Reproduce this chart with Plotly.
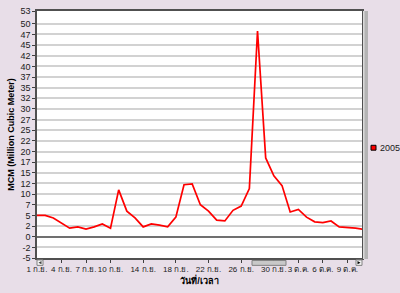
import plotly.graph_objects as go
import pandas as pd

# ---- data ----
dates = pd.date_range("2005-09-01", "2005-10-11", freq="D")
values = [5.0, 5.0, 4.4, 3.2, 2.0, 2.3, 1.8, 2.3, 3.0, 2.0,
          11.0, 6.0, 4.4, 2.3, 3.0, 2.7, 2.3, 4.6, 12.2, 12.4,
          7.5, 6.0, 3.9, 3.7, 6.2, 7.2, 11.3, 48.3, 18.5, 14.3,
          12.0, 5.8, 6.4, 4.6, 3.5, 3.3, 3.7, 2.3, 2.2, 2.0, 1.7]
series_name = "2005"

xtick_dates = ["2005-09-01", "2005-09-04", "2005-09-07", "2005-09-10", "2005-09-14",
               "2005-09-18", "2005-09-22", "2005-09-26", "2005-09-30", "2005-10-03",
               "2005-10-06", "2005-10-09"]
xtick_text = ["1 ก.ย.", "4 ก.ย.", "7 ก.ย.", "10 ก.ย.", "14 ก.ย.", "18 ก.ย.",
              "22 ก.ย.", "26 ก.ย.", "30 ก.ย.", "3 ต.ค.", "6 ต.ค.", "9 ต.ค."]
ytick_vals = [-5, -2.5, 0, 2.5, 5, 7.5, 10, 12.5, 15, 17.5, 20, 22.5, 25, 27.5,
              30, 32.5, 35, 37.5, 40, 42.5, 45, 47.5, 50, 53]
ytick_text = ["-5", "-2", "0", "2", "5", "7", "10", "12", "15", "17", "20", "22", "25", "27",
              "30", "32", "35", "37", "40", "42", "45", "47", "50", "53"]

BG = "#E8DEE8"
FONT = "Liberation Sans, Noto Sans, DejaVu Sans, sans-serif"
NARROW = "Liberation Sans Narrow, Liberation Sans, sans-serif"

fig = go.Figure()
fig.add_trace(go.Scatter(x=dates, y=values, mode="lines", name=series_name,
                         line=dict(color="#FF0000", width=1.7), showlegend=False))

# plot-area geometry (px): x 37..362, y 6..258
W, H = 400, 293
L, R, T, B = 37, 362, 6, 258
def px(xp):
    return (xp - L) / (R - L)
def py(yp):
    return (B - yp) / (B - T)

shapes = []
# vertical scrollbar on right
shapes.append(dict(type="rect", xref="paper", yref="paper", x0=px(363), x1=px(368),
                   y0=py(259), y1=py(6), fillcolor="#B4B4B4", line=dict(width=0), layer="above"))
shapes.append(dict(type="rect", xref="paper", yref="paper", x0=px(363), x1=px(364.5),
                   y0=py(259), y1=py(6), fillcolor="#DADADA", line=dict(width=0), layer="above"))
# horizontal scrollbar thumb
shapes.append(dict(type="rect", xref="paper", yref="paper", x0=px(252), x1=px(286),
                   y0=py(265.5), y1=py(260.5), fillcolor="#C8C8C8",
                   line=dict(color="#808080", width=1), layer="above"))
# left/right arrow buttons
shapes.append(dict(type="rect", xref="paper", yref="paper", x0=px(37), x1=px(43),
                   y0=py(265.5), y1=py(260), fillcolor="#F4F4F4",
                   line=dict(color="#808080", width=1), layer="above"))
shapes.append(dict(type="rect", xref="paper", yref="paper", x0=px(356), x1=px(362),
                   y0=py(265.5), y1=py(260), fillcolor="#F4F4F4",
                   line=dict(color="#808080", width=1), layer="above"))
shapes.append(dict(type="path", xref="paper", yref="paper",
                   path=f"M {px(41.5)},{py(261)} L {px(41.5)},{py(264.5)} L {px(38.5)},{py(262.75)} Z",
                   fillcolor="#404040", line=dict(width=0), layer="above"))
shapes.append(dict(type="path", xref="paper", yref="paper",
                   path=f"M {px(357.5)},{py(261)} L {px(357.5)},{py(264.5)} L {px(360.5)},{py(262.75)} Z",
                   fillcolor="#000000", line=dict(width=0), layer="above"))
# legend swatch
shapes.append(dict(type="rect", xref="paper", yref="paper", x0=px(371), x1=px(376),
                   y0=py(148), y1=py(143), fillcolor="#FF0000",
                   line=dict(color="#000000", width=1), layer="above"))

fig.update_layout(
    width=W, height=H,
    margin=dict(l=L, r=W - R, t=T, b=H - B),
    paper_bgcolor=BG, plot_bgcolor="#FFFFFF",
    font=dict(family=FONT, size=9, color="#202020"),
    showlegend=False,
    shapes=shapes,
    annotations=[dict(text=series_name, xref="paper", yref="paper",
                      x=px(377.5), y=py(145.5), xanchor="left", yanchor="middle",
                      showarrow=False, font=dict(size=9, color="#202020", family=FONT))],
)
fig.update_xaxes(
    range=["2005-09-01", "2005-10-10 19:00"],
    tickmode="array", tickvals=xtick_dates, ticktext=xtick_text,
    tickangle=0,
    ticks="outside", ticklen=3, tickcolor="#404040",
    showgrid=False, showline=True, linecolor="#505050", linewidth=1.5, mirror=True,
    tickfont=dict(size=8, color="#202020", family=NARROW),
    title=dict(text="<b>วันที่/เวลา</b>", font=dict(size=9, color="#000000"), standoff=3),
)
fig.update_yaxes(
    range=[-5, 53],
    tickmode="array", tickvals=ytick_vals, ticktext=ytick_text,
    ticks="outside", ticklen=3, tickcolor="#404040",
    showgrid=True, gridcolor="#D2D2D2", gridwidth=1.5,
    zeroline=True, zerolinecolor="#707070", zerolinewidth=1.5,
    showline=True, linecolor="#505050", linewidth=1.5, mirror=True,
    tickfont=dict(size=9, color="#202020", family=NARROW),
    title=dict(text="<b>MCM (Million Cubic Meter)</b>", font=dict(size=9, color="#000000"), standoff=4),
)

fig.write_html("out.html")
